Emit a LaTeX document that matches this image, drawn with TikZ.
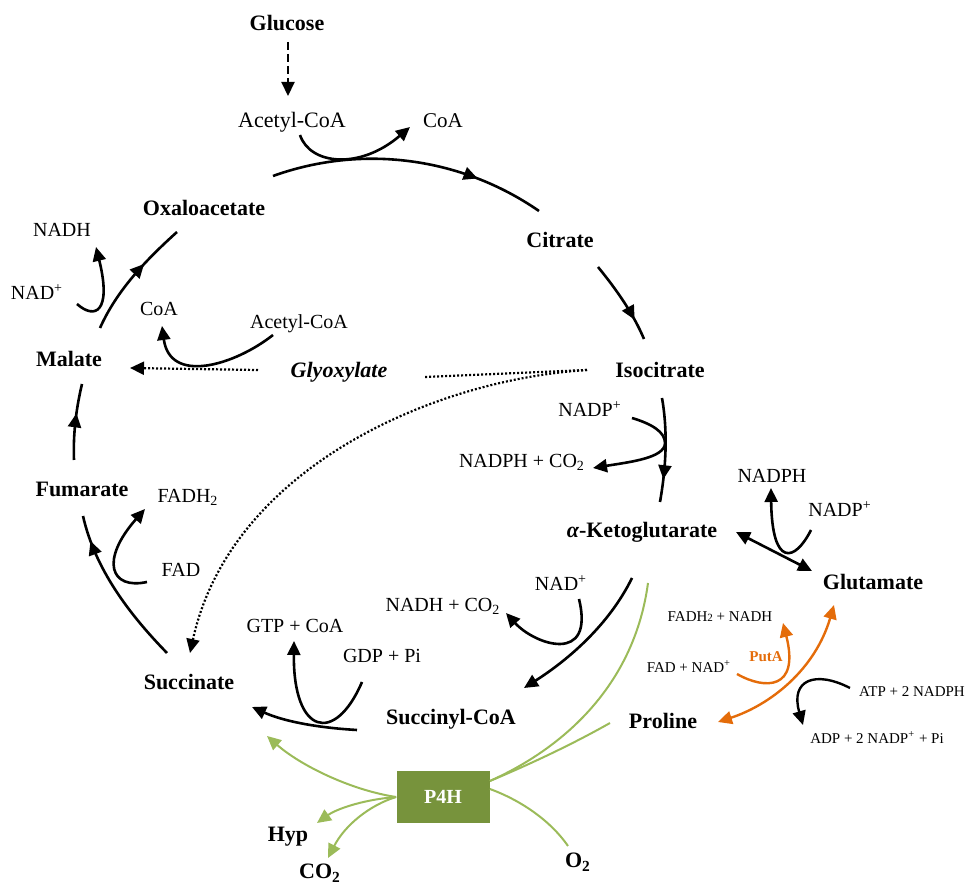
\documentclass[tikz,border=0pt]{standalone}
\usepackage{fontspec}
\setmainfont{Liberation Serif}
\usetikzlibrary{arrows.meta,decorations.markings}

\definecolor{p4hbox}{HTML}{77933C}
\definecolor{p4hline}{HTML}{9BBB59}
\definecolor{putaline}{HTML}{E46C0A}

\tikzset{
  metab/.style={font=\fontsize{11}{13}\selectfont\bfseries, anchor=base, inner sep=0pt},
  cofac/.style={font=\fontsize{10}{12}\selectfont, anchor=base, inner sep=0pt},
  smalltxt/.style={font=\fontsize{7.5}{9}\selectfont, anchor=base, inner sep=0pt},
  arr/.style={-{Triangle[length=7pt,width=6.5pt]}},
  cyc/.style={line width=1.3pt},
  midarrow/.style={postaction={decorate}, decoration={markings,
      mark=at position #1 with {\arrow{Triangle[length=7pt,width=6.5pt]}}}},
  sidearc/.style={line width=1.3pt, arr},
  dotline/.style={line width=1.1pt, dash pattern=on 1pt off 1pt},
  dashline/.style={line width=1.1pt, dash pattern=on 4pt off 2pt},
  hypline/.style={line width=1pt, draw=p4hline},
  putline/.style={line width=1.2pt, draw=putaline},
}

\begin{document}
\begin{tikzpicture}[x=0.5pt, y=-0.5pt]
  \useasboundingbox (0,0) rectangle (966,886);

  % Metabolites of the cycle
  \foreach \n/\x/\y/\t in {glc/287/31/Glucose, oxa/204/216/Oxaloacetate, cit/560/248/Citrate,
      iso/660/378/Isocitrate, mal/69/367/Malate, fum/82/497/Fumarate, suc/189/690/Succinate,
      scoa/451/725/Succinyl-CoA, glu/873/590/Glutamate, pro/663/729/Proline,
      hyp/288/842/Hyp, co/320/879/CO\textsubscript{2}, oxy/578/868/O\textsubscript{2}}
    \node[metab] (\n) at (\x,\y) {\t};
  \node[metab] (akg) at (642,538) {{\itshape α}-Ketoglutarate};
  \node[metab, font=\fontsize{11}{13}\selectfont\bfseries\itshape] (gly) at (339,378) {Glyoxylate};

  % Cofactors
  \node[cofac, font=\fontsize{11}{13}\selectfont] (acoa) at (292,128) {Acetyl-CoA};
  \node[cofac, font=\fontsize{10.5}{12}\selectfont] (coa) at (443,128) {CoA};
  \foreach \n/\x/\y/\t in {nadh1/62/237/NADH, nad1/37/300/NAD\textsuperscript{+},
      coa2/159/316/CoA, acoa2/299/329/Acetyl-CoA, fadh/188/503/FADH\textsubscript{2},
      fad/181/577/FAD, gtp/295/633/GTP + CoA, gdp/382/663/GDP + Pi,
      nadh2/443/612/NADH + CO\textsubscript{2}, nad2/561/591/NAD\textsuperscript{+},
      nadp1/590/417/NADP\textsuperscript{+}, nadph1/522/468/NADPH + CO\textsubscript{2},
      nadph2/772/483/NADPH, nadp2/840/517/NADP\textsuperscript{+}}
    \node[cofac] (\n) at (\x,\y) {\t};

  % Proline side
  \foreach \n/\x/\y/\t in {fadhn/720/622/FADH{\fontsize{5.5}{6}\selectfont 2} + NADH,
      fadn/689/673/FAD + NAD\textsuperscript{+}, atp/912/697/ATP + 2 NADPH,
      adp/877/744/ADP + 2 NADP\textsuperscript{+} + Pi}
    \node[smalltxt] (\n) at (\x,\y) {\t};
  \node[smalltxt, font=\fontsize{7.5}{9}\selectfont\bfseries, text=putaline] (puta) at (766,662) {PutA};

  \node[fill=p4hbox, text=white, font=\fontsize{10}{12}\selectfont\bfseries,
        minimum width=46.5pt, minimum height=26pt, inner sep=0pt] (p4h) at (443,797) {P4H};

  % End points of the connectors
  \foreach \n/\x/\y in {o1/273/176, c0/539/211, c1/598/267, i0/644/339, i1/662/398, k0/660/502,
      k1/632/578, s0/524/688, s1/357/730, u0/252/707, u1/167/653, f0/83/516, f1/74/460,
      m0/82/384, m1/100/328, o0/177/232, g1/288/42, g2/288/96,
      ta/300/135, tc/410/127, ma/273/335, mc/162/326, mn/77/304, mh/96/247,
      in/632/418, ih/593/468, gn/811/530, gh/771/488, sn/579/599, sh/506/613,
      sg/362/682, st/294/641, ff/147/582, fh/145/509, ke/736/532, gw/812/571,
      y1/258/370, y2/130/368, i2/587/370, y3/425/377, u2/190/653,
      hs/267/736, hy/317/823, hc/328/858, hk/648/583, hp/610/723, ho/568/846,
      pp/718/722, pg/834/605, pf/737/674, pa/783/623, aa/850/688, ad/803/725}
    \coordinate (\n) at (\x,\y);

  % TCA cycle
  \draw[cyc, midarrow=0.75] (o1) .. controls (362,144) and (461,157) .. (c0);
  \draw[cyc, midarrow=0.75] (c1) .. controls (616,289) and (633,313) .. (i0);
  \draw[cyc, midarrow=0.78] (i1) .. controls (668,432) and (666,468) .. (k0);
  \draw[cyc, arr] (k1) .. controls (609,625) and (568,660) .. (s0);
  \draw[cyc, arr] (s1) .. controls (321,728) and (285,722) .. (u0);
  \draw[cyc, midarrow=0.84] (u1) .. controls (129,614) and (95,569) .. (f0);
  \draw[cyc, midarrow=0.61] (f1) .. controls (73,435) and (76,409) .. (m0);
  \draw[cyc, midarrow=0.63] (m1) .. controls (117,290) and (146,260) .. (o0);
  \draw[dashline, arr] (g1) -- (g2);

  % Side reactions
  \draw[sidearc] (ta) .. controls (310,165) and (360,170) .. (tc);
  \draw[sidearc] (ma) .. controls (235,365) and (170,385) .. (mc);
  \draw[sidearc] (mn) .. controls (95,320) and (112,312) .. (mh);
  \draw[sidearc] (in) .. controls (652,424) and (665,432) .. (665,443)
                      .. controls (665,458) and (630,462) .. (ih);
  \draw[sidearc] (gn) .. controls (795,562) and (772,568) .. (gh);
  \draw[sidearc] (sn) .. controls (595,665) and (535,645) .. (sh);
  \draw[sidearc] (sg) .. controls (335,745) and (293,735) .. (st);
  \draw[sidearc] (ff) .. controls (110,590) and (100,560) .. (fh);
  \draw[cyc, {Triangle[length=7pt,width=6.5pt]}-{Triangle[length=7pt,width=6.5pt]}] (ke) -- (gw);

  % Glyoxylate shunt
  \draw[dotline, arr] (y1) -- (y2);
  \draw[dotline] (i2) -- (y3);
  \draw[dotline, arr] (i2) .. controls (430,380) and (230,470) .. (u2);

  % P4H
  \draw[hypline, arr] (p4h.west) .. controls (350,790) and (300,765) .. (hs);
  \draw[hypline, arr] (p4h.west) .. controls (360,800) and (335,810) .. (hy);
  \draw[hypline, arr] (p4h.west) .. controls (370,805) and (345,825) .. (hc);
  \draw[hypline] ([yshift=8pt]p4h.east) .. controls (570,745) and (635,680) .. (hk);
  \draw[hypline] ([yshift=8pt]p4h.east) .. controls (540,760) and (580,740) .. (hp);
  \draw[hypline] ([yshift=4pt]p4h.east) .. controls (520,800) and (550,820) .. (ho);

  % PutA
  \draw[putline, {Triangle[length=7pt,width=6.5pt]}-{Triangle[length=7pt,width=6.5pt]}]
    (pp) .. controls (770,705) and (815,670) .. (pg);
  \draw[putline, arr] (pf) .. controls (765,690) and (800,690) .. (pa);
  \draw[line width=1.2pt, arr] (aa) .. controls (815,670) and (790,680) .. (ad);
\end{tikzpicture}
\end{document}
